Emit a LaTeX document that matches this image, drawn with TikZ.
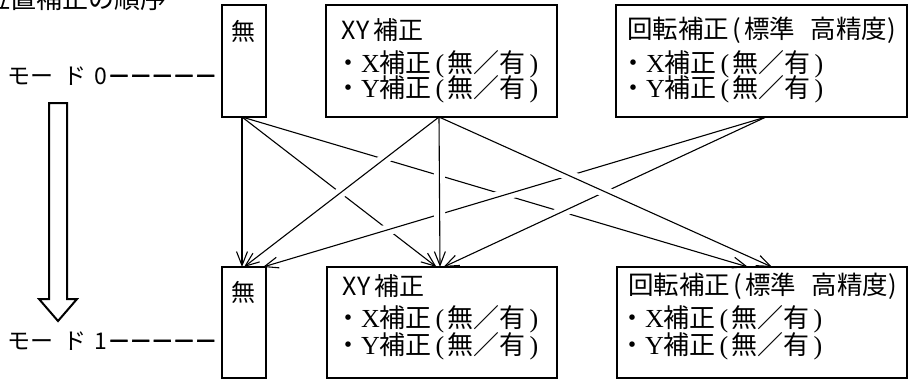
\documentclass[tikz,border=0pt]{standalone}
\usepackage{fontspec}
\setmainfont{Noto Sans CJK JP}
\newfontfamily\serlat{Liberation Serif}
\usetikzlibrary{arrows.meta}
\newcommand\glyphat[2]{\makebox[0pt][l]{\hspace*{#1}\makebox[0pt][c]{#2}}}
\newcommand\tfont{\fontsize{24}{24}\selectfont}
\newcommand\rfont{\fontsize{25.5}{25.5}\selectfont}
\newcommand\xyfont{\fontsize{25}{25}\selectfont}
\newcommand\bfont{\fontsize{26}{26}\selectfont}
\newcommand\mfont{\fontsize{23}{23}\selectfont}
\newcommand\lpar{\makebox[0.62em][c]{\serlat(}}
\newcommand\rpar{\makebox[0.62em][c]{\serlat)}}
\newcommand\tlpar{\makebox[0.6em][c]{(}}
\newcommand\trpar{\makebox[0.45em][l]{)}}
\newcommand\dsh{{\addfontfeature{FakeBold=2.5}－}}
\tikzset{
  box/.style={draw, line width=1.3pt, inner sep=0pt, outer sep=0pt, anchor=north west},
  txt/.style={inner sep=0pt, outer sep=0pt},
  conn/.style={line width=1.1pt, -{Straight Barb[length=14pt,width=11pt]},
    preaction={draw=white, line width=11pt, arrows=-, shorten <=50pt, shorten >=30pt}},
  bigarrow/.style={draw, line width=2pt, line join=miter, fill=white}
}
\begin{document}
\begin{tikzpicture}[x=1pt,y=-1pt]
\useasboundingbox (0,0) rectangle (909,381);
% title (clipped at top-left)
\node[txt, anchor=base west, font=\fontsize{26}{26}\selectfont] (title) at (-16,8.5) {位置補正の順序};
% boxes top row
\node[box, minimum width=44pt, minimum height=112pt] (t0) at (222,5) {};
\node[box, minimum width=231pt, minimum height=112pt] (t1) at (326,5) {};
\node[box, minimum width=291pt, minimum height=112pt] (t2) at (616,5) {};
% boxes bottom row
\node[box, minimum width=44pt, minimum height=111pt] (b0) at (222,267) {};
\node[box, minimum width=230pt, minimum height=111pt] (b1) at (327,267) {};
\node[box, minimum width=290pt, minimum height=111pt] (b2) at (617,267) {};
% texts top row
\node[txt, font=\tfont] (t0a) at (243.5,31) {無};
\node[txt, anchor=west, font=\xyfont] (t1a) at (341,30) {X\kern1pt Y\kern4pt 補正};
\node[txt, anchor=west, font=\bfont] (t1b) at (335,64) {・{\serlat X}補正\lpar 無／有\rpar};
\node[txt, anchor=west, font=\bfont] (t1c) at (335,89) {・{\serlat Y}補正\lpar 無／有\rpar};
\node[txt, anchor=west, font=\rfont] (t2a) at (627,30) {回転補正\tlpar 標準\hspace{0.6em}高精度\trpar};
\node[txt, anchor=west, font=\bfont] (t2b) at (620,64) {・{\serlat X}補正\lpar 無／有\rpar};
\node[txt, anchor=west, font=\bfont] (t2c) at (620,89) {・{\serlat Y}補正\lpar 無／有\rpar};
% texts bottom row
\node[txt, font=\tfont] (b0a) at (243.5,292) {無};
\node[txt, anchor=west, font=\xyfont] (b1a) at (342,286) {X\kern1pt Y\kern4pt 補正};
\node[txt, anchor=west, font=\bfont] (b1b) at (335,319) {・{\serlat X}補正\lpar 無／有\rpar};
\node[txt, anchor=west, font=\bfont] (b1c) at (335,346) {・{\serlat Y}補正\lpar 無／有\rpar};
\node[txt, anchor=west, font=\rfont] (b2a) at (628,286) {回転補正\tlpar 標準\hspace{0.6em}高精度\trpar};
\node[txt, anchor=west, font=\bfont] (b2b) at (619,319) {・{\serlat X}補正\lpar 無／有\rpar};
\node[txt, anchor=west, font=\bfont] (b2c) at (619,346) {・{\serlat Y}補正\lpar 無／有\rpar};
% mode labels
\node[txt, anchor=west, font=\mfont] (m0) at (0,76) {\glyphat{19.2pt}{モ}\glyphat{41.5pt}{ー}\glyphat{75pt}{ド}\glyphat{100.5pt}{0}\glyphat{119pt}{\dsh}\glyphat{140.7pt}{\dsh}\glyphat{162.3pt}{\dsh}\glyphat{184pt}{\dsh}\glyphat{205.7pt}{\dsh}\hspace*{212pt}};
\node[txt, anchor=west, font=\mfont] (m1) at (0,341) {\glyphat{19.2pt}{モ}\glyphat{41.5pt}{ー}\glyphat{75pt}{ド}\glyphat{100.5pt}{1}\glyphat{119pt}{\dsh}\glyphat{140.7pt}{\dsh}\glyphat{162.3pt}{\dsh}\glyphat{184pt}{\dsh}\glyphat{205.7pt}{\dsh}\hspace*{212pt}};
% hollow down arrow
\draw[bigarrow] (49,103) -- (67,103) -- (67,299) -- (77,299) -- (58,321) -- (39,299) -- (49,299) -- cycle;
% connectors (order matters for the line breaks at crossings)
\draw[conn] ([xshift=-2pt]t0.south) -- ([xshift=-14pt]b2.north);  % 3
\draw[conn] ([xshift=-2pt]t0.south) -- ([xshift=-5.5pt]b1.north); % 2
\draw[conn] ([xshift=4.5pt]t2.south) -- ([xshift=-3pt]b0.north east); % 7
\draw[conn] ([xshift=4.5pt]t2.south) -- ([xshift=1.5pt]b1.north); % 8
\draw[conn] ([xshift=-2.5pt]t1.south) -- (b0.north); % 4
\draw[conn] ([xshift=-2pt]t0.south) -- ([xshift=-2pt]b0.north); % 1
\draw[conn] ([xshift=-2.5pt]t1.south) -- ([xshift=-2pt]b1.north); % 5
\draw[conn] ([xshift=-2.5pt]t1.south) -- ([xshift=10pt]b2.north); % 6
\end{tikzpicture}
\end{document}
